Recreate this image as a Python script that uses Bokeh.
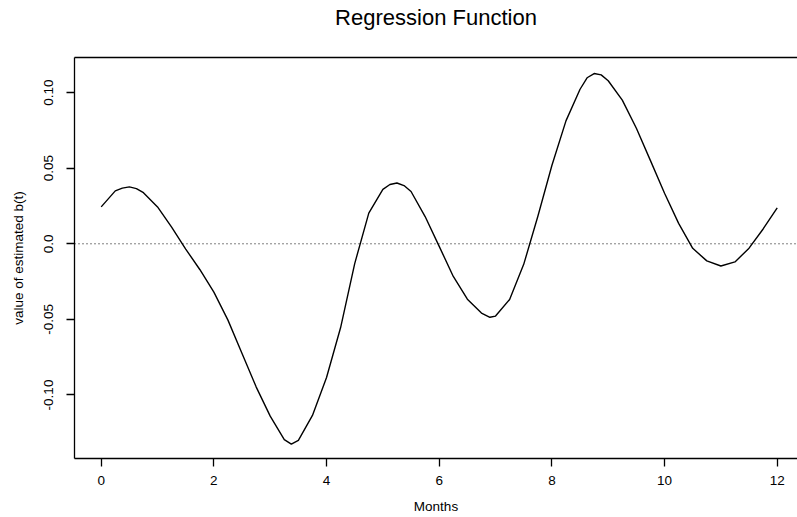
from bokeh.plotting import figure
from bokeh.models import Range1d, Span, LinearAxis, FixedTicker
from bokeh.embed import file_html
from bokeh.resources import INLINE

# ---- data ----
months = [0, 0.25, 0.375, 0.5, 0.625, 0.75, 1.0, 1.25, 1.5, 1.75, 2.0, 2.25,
          2.5, 2.75, 3.0, 3.25, 3.375, 3.5, 3.75, 4.0, 4.25, 4.5, 4.75, 5.0,
          5.125, 5.25, 5.375, 5.5, 5.75, 6.0, 6.25, 6.5, 6.75, 6.9, 7.0, 7.25,
          7.5, 7.75, 8.0, 8.25, 8.5, 8.625, 8.75, 8.875, 9.0, 9.25, 9.5, 9.75,
          10.0, 10.25, 10.5, 10.75, 11.0, 11.25, 11.5, 11.75, 12.0]
b_est = [0.0244, 0.0350, 0.0368, 0.0376, 0.0365, 0.0338, 0.0244, 0.0110,
         -0.0035, -0.0170, -0.0320, -0.0505, -0.0726, -0.0946, -0.1140,
         -0.1295, -0.1325, -0.1300, -0.1135, -0.0884, -0.0554, -0.0131,
         0.0203, 0.0360, 0.0392, 0.0402, 0.0385, 0.0346, 0.0180, -0.0017,
         -0.0216, -0.0366, -0.0458, -0.0486, -0.0478, -0.0368, -0.0136,
         0.0180, 0.0518, 0.0813, 0.1022, 0.1098, 0.1126, 0.1117, 0.1078,
         0.0950, 0.0764, 0.0550, 0.0334, 0.0135, -0.0030, -0.0113, -0.0147,
         -0.0120, -0.0029, 0.0098, 0.0237]

x_ticks = [0, 2, 4, 6, 8, 10, 12]
y_ticks = [-0.10, -0.05, 0.0, 0.05, 0.10]
y_tick_labels = ["-0.10", "-0.05", "0.0", "0.05", "0.10"]
title_text = "Regression Function"

FONT = "Liberation Sans"
AXFS = "13.5px"

p = figure(width=797, height=517, output_backend="svg", toolbar_location=None,
           x_range=Range1d(-0.474, 12.36), y_range=Range1d(-0.1420, 0.1232),
           min_border_left=74, min_border_right=0, min_border_top=56,
           min_border_bottom=59,
           title=title_text + "\n",
           x_axis_label="Months", y_axis_label="value of estimated b(t)")

p.background_fill_color = "white"
p.border_fill_color = "white"
p.outline_line_color = None
p.xgrid.visible = False
p.ygrid.visible = False

# title (an empty second line lifts it higher above the box, as in R)
p.title.align = "center"
p.title.text_font = FONT
p.title.text_font_size = "22px"
p.title.text_font_style = "normal"
p.title.text_color = "black"
p.title.text_line_height = 1.0
p.title.standoff = 5

# x axis
xa = p.xaxis[0]
xa.ticker = FixedTicker(ticks=x_ticks)
xa.axis_line_color = "black"
xa.axis_line_width = 1.3
xa.major_tick_line_color = "black"
xa.major_tick_line_width = 1.3
xa.major_tick_out = 8
xa.major_tick_in = 0
xa.minor_tick_line_color = None
xa.major_label_text_font = FONT
xa.major_label_text_font_size = AXFS
xa.major_label_text_color = "black"
xa.major_label_standoff = 9
xa.axis_label_text_font = FONT
xa.axis_label_text_font_size = AXFS
xa.axis_label_text_font_style = "normal"
xa.axis_label_text_color = "black"
xa.axis_label_standoff = 11

# y axis
ya = p.yaxis[0]
ya.ticker = FixedTicker(ticks=y_ticks)
ya.major_label_overrides = {t: s for t, s in zip(y_ticks, y_tick_labels)}
ya.major_label_orientation = "vertical"
ya.axis_line_color = "black"
ya.axis_line_width = 1.3
ya.major_tick_line_color = "black"
ya.major_tick_line_width = 1.3
ya.major_tick_out = 8
ya.major_tick_in = 0
ya.minor_tick_line_color = None
ya.major_label_text_font = FONT
ya.major_label_text_font_size = AXFS
ya.major_label_text_color = "black"
ya.major_label_standoff = 13
ya.axis_label_text_font = FONT
ya.axis_label_text_font_size = AXFS
ya.axis_label_text_font_style = "normal"
ya.axis_label_text_color = "black"
ya.axis_label_standoff = 16

# top border of the box
top = LinearAxis(ticker=FixedTicker(ticks=[]), axis_line_color="black",
                 axis_line_width=1.3, major_tick_line_color=None,
                 minor_tick_line_color=None, major_label_text_color=None)
p.add_layout(top, "above")

# zero reference line (dotted)
p.add_layout(Span(location=0, dimension="width", line_color="black",
                  line_dash="1 3", line_width=1))

# estimated regression function
p.line(months, b_est, line_color="black", line_width=1.4, line_join="round")

open("out.html", "w").write(file_html(p, INLINE))
